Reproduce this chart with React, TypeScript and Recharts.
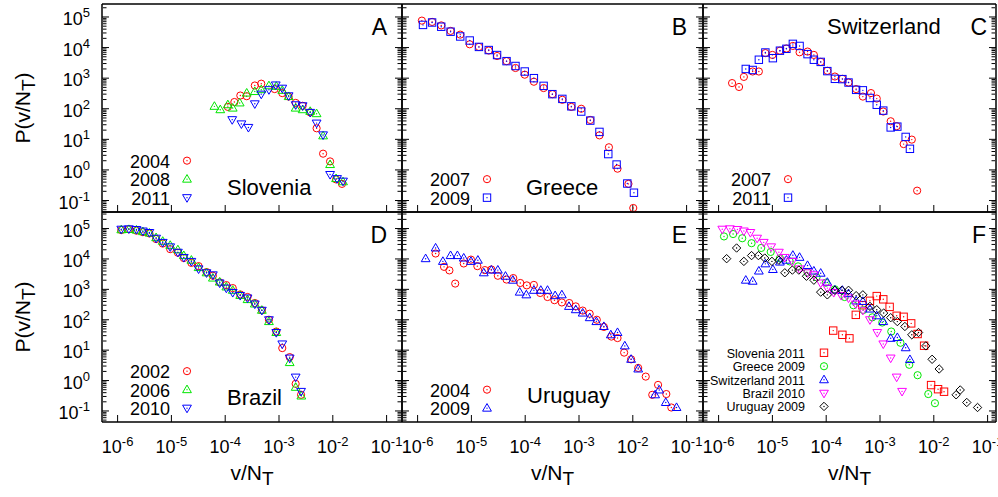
import React from 'react';
import { ScatterChart, Scatter, XAxis, YAxis, Legend } from 'recharts';

// A: Slovenia
const sloX2004 = [1.12e-4, 1.48e-4, 1.91e-4, 2.51e-4, 3.55e-4, 4.68e-4, 8.3e-4, 1.15e-3, 1.51e-3, 2.04e-3, 2.75e-3, 3.8e-3, 5.0e-3, 6.6e-3, 8.9e-3, 1.15e-2, 1.48e-2];
const sloY2004 = [115, 166, 270, 257, 575, 660, 440, 325, 250, 155, 125, 76, 23, 3.4, 1.9, 0.49, 0.35];
const sloX2008 = [6.3e-5, 8.1e-5, 1.12e-4, 1.38e-4, 1.86e-4, 2.51e-4, 3.55e-4, 4.68e-4, 6.5e-4, 8.9e-4, 1.15e-3, 1.51e-3, 2.04e-3, 2.75e-3, 3.8e-3, 5.0e-3, 6.6e-3, 8.9e-3, 1.15e-2, 1.55e-2];
const sloY2008 = [120, 93, 135, 105, 155, 325, 365, 420, 565, 540, 400, 250, 105, 93, 82, 69, 13, 1.5, 0.52, 0.41];
const sloX2011 = [1.35e-4, 2.0e-4, 2.7e-4, 3.55e-4, 4.68e-4, 6.5e-4, 8.7e-4, 1.15e-3, 1.51e-3, 2.04e-3, 2.75e-3, 3.8e-3, 5.0e-3, 6.6e-3, 8.9e-3, 1.2e-2, 1.55e-2];
const sloY2011 = [44, 32, 24.5, 145, 300, 420, 600, 470, 265, 135, 125, 76, 34, 14, 0.71, 0.52, 0.43];

// B: Greece
const greX2007 = [1.2e-6, 1.86e-6, 2.75e-6, 4.1e-6, 6.2e-6, 9.3e-6, 1.38e-5, 2.1e-5, 3.0e-5, 4.5e-5, 6.6e-5, 9.8e-5, 1.45e-4, 2.2e-4, 3.2e-4, 4.9e-4, 7.2e-4, 1.1e-3, 1.62e-3, 2.4e-3, 3.6e-3, 5.2e-3, 8.3e-3, 1.02e-2];
const greY2007 = [76000, 69000, 53000, 35000, 26500, 12800, 10500, 8000, 5300, 3600, 2150, 1300, 765, 475, 300, 196, 115, 100, 43, 13.5, 5.5, 1.1, 0.35, 0.057];
const greX2009 = [1.26e-6, 1.86e-6, 2.75e-6, 4.1e-6, 6.2e-6, 9.3e-6, 1.38e-5, 2.1e-5, 3.0e-5, 4.5e-5, 6.6e-5, 9.8e-5, 1.45e-4, 2.2e-4, 3.2e-4, 4.9e-4, 7.2e-4, 1.1e-3, 1.62e-3, 2.4e-3, 3.5e-3, 5.0e-3, 7.9e-3, 1.05e-2];
const greY2009 = [55000, 66000, 48000, 33000, 23000, 17000, 10500, 8300, 5700, 3600, 2500, 1650, 1000, 560, 300, 210, 120, 81, 41, 17.5, 3.3, 1.5, 0.36, 0.18];

// C: Switzerland
const swiX2007 = [1.78e-6, 2.4e-6, 2.95e-6, 4.3e-6, 5.6e-6, 7.4e-6, 1.0e-5, 1.38e-5, 1.82e-5, 2.4e-5, 3.2e-5, 4.5e-5, 5.9e-5, 7.9e-5, 1.05e-4, 1.45e-4, 2.0e-4, 2.6e-4, 3.6e-4, 4.8e-4, 6.8e-4, 8.7e-4, 1.15e-3, 1.58e-3, 2.04e-3, 2.75e-3, 3.9e-3, 4.9e-3];
const swiY2007 = [690, 515, 1100, 1650, 1650, 6600, 5750, 7900, 9300, 11300, 7000, 7400, 5750, 3400, 1740, 1130, 950, 720, 440, 250, 325, 215, 81, 39, 27, 7, 9.8, 0.21];
const swiX2011 = [3.2e-6, 4.3e-6, 5.6e-6, 7.4e-6, 1.02e-5, 1.38e-5, 1.82e-5, 2.4e-5, 3.2e-5, 4.5e-5, 5.9e-5, 7.9e-5, 1.05e-4, 1.45e-4, 2.0e-4, 2.6e-4, 3.6e-4, 4.8e-4, 6.5e-4, 8.7e-4, 1.15e-3, 1.58e-3, 2.1e-3, 3.0e-3, 3.6e-3];
const swiY2011 = [2000, 1850, 4000, 6900, 4500, 7900, 9100, 13200, 11300, 6100, 4000, 3400, 1700, 950, 930, 720, 415, 400, 225, 135, 87, 24.5, 26, 12, 4.9];

// D: Brazil
const braX = [1.17e-6, 1.62e-6, 2.24e-6, 2.95e-6, 3.9e-6, 5.2e-6, 6.9e-6, 9.5e-6, 1.32e-5, 1.7e-5, 2.35e-5, 3.2e-5, 4.5e-5, 5.9e-5, 7.9e-5, 1.05e-4, 1.38e-4, 1.9e-4, 2.6e-4, 3.55e-4, 4.8e-4, 6.5e-4, 8.9e-4, 1.15e-3, 1.58e-3, 2.04e-3, 2.57e-3];
const braY2002 = [89000, 95000, 85000, 76000, 69000, 45000, 32000, 21000, 16000, 10700, 7400, 5800, 3700, 2800, 1700, 1380, 1100, 680, 560, 355, 205, 100, 41, 11.7, 5.9, 0.78, 0.34];
const braX2006 = [1.17e-6, 1.62e-6, 2.24e-6, 2.95e-6, 3.9e-6, 5.2e-6, 6.9e-6, 9.5e-6, 1.32e-5, 1.7e-5, 2.35e-5, 3.2e-5, 4.5e-5, 5.9e-5, 7.9e-5, 1.05e-4, 1.38e-4, 1.9e-4, 2.6e-4, 3.55e-4, 4.8e-4, 6.5e-4, 8.9e-4, 1.58e-3, 2.04e-3, 2.6e-3];
const braY2006 = [91000, 93000, 89000, 79000, 71000, 50000, 38000, 28000, 20000, 12900, 9100, 5200, 3500, 2350, 1740, 1200, 930, 630, 460, 330, 205, 87, 38, 3.9, 0.6, 0.31];
const braY2010 = [95000, 98000, 93000, 83000, 74000, 48000, 35000, 25000, 16600, 11200, 8300, 4700, 3500, 3000, 1620, 1100, 790, 630, 520, 330, 205, 100, 38, 16, 5.5, 1.3, 0.44];

// E: Uruguay
const uruX2004 = [2.16e-6, 3.1e-6, 3.9e-6, 5.0e-6, 7.2e-6, 9.8e-6, 1.29e-5, 1.78e-5, 2.35e-5, 3.1e-5, 4.5e-5, 6.0e-5, 8.1e-5, 1.07e-4, 1.45e-4, 1.9e-4, 2.6e-4, 3.5e-4, 4.8e-4, 6.6e-4, 8.7e-4, 1.17e-3, 1.58e-3, 2.14e-3, 2.9e-3, 4.0e-3, 5.2e-3, 6.9e-3, 9.3e-3, 1.26e-2, 1.74e-2, 2.3e-2, 2.95e-2, 4.2e-2, 5.2e-2];
const uruY2004 = [15100, 5500, 4200, 1550, 7100, 9500, 5800, 4300, 4500, 2800, 2100, 2350, 1620, 1350, 1400, 760, 560, 440, 370, 355, 275, 200, 158, 100, 58, 28, 25, 8.3, 5.0, 2.6, 1.35, 0.34, 0.72, 0.36, 0.13];
const uruX2009 = [1.41e-6, 2.16e-6, 2.95e-6, 4.1e-6, 5.5e-6, 7.2e-6, 9.8e-6, 1.32e-5, 1.7e-5, 2.35e-5, 3.1e-5, 4.3e-5, 5.9e-5, 7.9e-5, 1.05e-4, 1.45e-4, 1.95e-4, 2.6e-4, 3.6e-4, 4.8e-4, 6.5e-4, 8.7e-4, 1.17e-3, 1.58e-3, 2.1e-3, 2.9e-3, 3.9e-3, 5.2e-3, 7.1e-3, 9.3e-3, 1.26e-2, 2.6e-2, 3.1e-2, 4.1e-2, 6.5e-2];
const uruY2009 = [10200, 22900, 8300, 12900, 12900, 10700, 8300, 9100, 3500, 4300, 4300, 2700, 2000, 810, 660, 930, 930, 930, 620, 660, 275, 214, 166, 117, 87, 60, 32, 38, 13.8, 5.0, 2.4, 0.34, 0.49, 0.19, 0.13];

const XMAJ = [1e-6, 1e-5, 1e-4, 1e-3, 1e-2, 1e-1];
const YMAJ = [1e-1, 1, 10, 100, 1e3, 1e4, 1e5];

const FONT = "'Liberation Sans', Arial, Helvetica, sans-serif";
const RED = '#ff0000';
const GREEN = '#00e600';
const BLUE = '#0000ff';
const MAGENTA = '#ff00ff';
const BLACK = '#000000';

// plot geometry (page pixels)
const COL_X = [102, 402, 703];
const COL_W = [300, 301, 293];
const ROW_Y = [4, 212];
const ROW_H = [208, 210];
const ROW_YLOG = [[-1.375, 5.424], [-1.363, 5.544]];
const X_LOG_MIN = -6.29;
const X_PX_PER_DEC = 53.8;

type Kind = 'circle' | 'up' | 'down' | 'square' | 'diamond';

interface Series {
  name: string;
  xs: number[];
  ys: number[];
  kind: Kind;
  color: string;
}

function Marker({ kind, cx, cy, color }: { kind: Kind; cx: number; cy: number; color: string }) {
  const common = { fill: 'none', stroke: color, strokeWidth: 1 };
  let outline;
  if (kind === 'circle') outline = <circle cx={cx} cy={cy} r={3.6} {...common} />;
  else if (kind === 'square') outline = <rect x={cx - 3.7} y={cy - 3.7} width={7.4} height={7.4} {...common} />;
  else if (kind === 'up') outline = <polygon points={`${cx},${cy - 4.6} ${cx + 4.4},${cy + 3} ${cx - 4.4},${cy + 3}`} {...common} />;
  else if (kind === 'down') outline = <polygon points={`${cx},${cy + 4.6} ${cx + 4.4},${cy - 3} ${cx - 4.4},${cy - 3}`} {...common} />;
  else outline = <polygon points={`${cx},${cy - 4.2} ${cx + 4.2},${cy} ${cx},${cy + 4.2} ${cx - 4.2},${cy}`} {...common} />;
  return (
    <g>
      {outline}
      <circle cx={cx} cy={cy} r={0.7} fill={color} />
    </g>
  );
}

function minors(lo: number, hi: number) {
  const out: number[] = [];
  for (let k = Math.floor(lo); k <= Math.ceil(hi); k++) {
    for (let m = 2; m <= 9; m++) {
      const l = Math.log10(m) + k;
      if (l > lo + 0.01 && l < hi - 0.01) out.push(m * Math.pow(10, k));
    }
  }
  return out;
}

const NoLabel = () => <g />;

// tick label "10^n" under the bottom frame; y0 is the plot bottom in chart pixels
function XTickLabel({ x, value, y0 }: { x: number; value: number; y0: number }) {
  const e = Math.round(Math.log10(value));
  return (
    <text x={x} y={y0 + 31} textAnchor="middle" fontFamily={FONT} fontSize={18} fill="#000">
      10<tspan dy={-7} fontSize={13}>{e}</tspan>
    </text>
  );
}

// tick label left of the frame; x0 is the plot left in chart pixels
function YTickLabel({ y, value, x0 }: { y: number; value: number; x0: number }) {
  const e = Math.round(Math.log10(value));
  return (
    <text x={x0 - 12} y={y + 8} textAnchor="end" fontFamily={FONT} fontSize={18} fill="#000">
      10<tspan dy={-8} fontSize={13}>{e}</tspan>
    </text>
  );
}

interface PanelSpec {
  col: number;
  row: number;
  series: Series[];
  xLabels: boolean;
  yLabels: boolean;
  rows: number[]; // legend baselines, px above plot bottom
  textX: number;
  markX: number;
  legendFont: number;
  place?: string;
  placeX?: number;
  placeY?: number; // negative = from bottom
  letter: string;
  letterX: number;
}

const panels: PanelSpec[] = [
  {
    col: 0, row: 0, xLabels: false, yLabels: true,
    series: [
      { name: '2004', xs: sloX2004, ys: sloY2004, kind: 'circle', color: RED },
      { name: '2008', xs: sloX2008, ys: sloY2008, kind: 'up', color: GREEN },
      { name: '2011', xs: sloX2011, ys: sloY2011, kind: 'down', color: BLUE },
    ],
    rows: [44.5, 26, 7.5], textX: 68, markX: 85, legendFont: 18,
    place: 'Slovenia', placeX: 125, placeY: -17, letter: 'A', letterX: 285,
  },
  {
    col: 1, row: 0, xLabels: false, yLabels: false,
    series: [
      { name: '2007', xs: greX2007, ys: greY2007, kind: 'circle', color: RED },
      { name: '2009', xs: greX2009, ys: greY2009, kind: 'square', color: BLUE },
    ],
    rows: [26, 7.5], textX: 68, markX: 85, legendFont: 18,
    place: 'Greece', placeX: 124, placeY: -17, letter: 'B', letterX: 285,
  },
  {
    col: 2, row: 0, xLabels: false, yLabels: false,
    series: [
      { name: '2007', xs: swiX2007, ys: swiY2007, kind: 'circle', color: RED },
      { name: '2011', xs: swiX2011, ys: swiY2011, kind: 'square', color: BLUE },
    ],
    rows: [26, 7.5], textX: 68, markX: 85, legendFont: 18,
    place: 'Switzerland', placeX: 124, placeY: 30, letter: 'C', letterX: 284,
  },
  {
    col: 0, row: 1, xLabels: true, yLabels: true,
    series: [
      { name: '2002', xs: braX, ys: braY2002, kind: 'circle', color: RED },
      { name: '2006', xs: braX2006, ys: braY2006, kind: 'up', color: GREEN },
      { name: '2010', xs: braX, ys: braY2010, kind: 'down', color: BLUE },
    ],
    rows: [44, 25.5, 7], textX: 68, markX: 85, legendFont: 18,
    place: 'Brazil', placeX: 125, placeY: -17, letter: 'D', letterX: 285,
  },
  {
    col: 1, row: 1, xLabels: true, yLabels: false,
    series: [
      { name: '2004', xs: uruX2004, ys: uruY2004, kind: 'circle', color: RED },
      { name: '2009', xs: uruX2009, ys: uruY2009, kind: 'up', color: BLUE },
    ],
    rows: [25.5, 7], textX: 68, markX: 85, legendFont: 18,
    place: 'Uruguay', placeX: 125, placeY: -19, letter: 'E', letterX: 285,
  },
  {
    col: 2, row: 1, xLabels: true, yLabels: false,
    series: [
      { name: 'Slovenia 2011', xs: sloX2011, ys: sloY2011, kind: 'square', color: RED },
      { name: 'Greece 2009', xs: greX2009, ys: greY2009, kind: 'circle', color: GREEN },
      { name: 'Switzerland 2011', xs: swiX2011, ys: swiY2011, kind: 'up', color: BLUE },
      { name: 'Brazil 2010', xs: braX, ys: braY2010, kind: 'down', color: MAGENTA },
      { name: 'Uruguay 2009', xs: uruX2009, ys: uruY2009, kind: 'diamond', color: BLACK },
    ],
    rows: [64.5, 51, 37.5, 24, 10.8], textX: 102, markX: 121, legendFont: 12.5,
    letter: 'F', letterX: 283,
  },
];

function Overlay({ payload, p, ml, mt, pw, ph, W, H }: any) {
  const bottom = mt + ph;
  const names = new Set((payload || []).map((it: any) => it.value));
  return (
    <svg width={W} height={H} style={{ display: 'block', overflow: 'visible' }} fontFamily={FONT} fill="#000">
      {p.series.map((s: Series, i: number) => {
        if (!names.has(s.name)) return null;
        const by = bottom - p.rows[i];
        return (
          <g key={s.name}>
            <text x={ml + p.textX} y={by} textAnchor="end" fontSize={p.legendFont}>{s.name}</text>
            <Marker kind={s.kind} cx={ml + p.markX} cy={by - p.legendFont * 0.38} color={s.color} />
          </g>
        );
      })}
      {p.place && (
        <text x={ml + p.placeX} y={p.placeY < 0 ? bottom + p.placeY : mt + p.placeY} fontSize={22}>{p.place}</text>
      )}
      <text x={ml + p.letterX} y={mt + 31} textAnchor="end" fontSize={23}>{p.letter}</text>
      {p.xLabels && (
        <text x={ml + pw / 2} y={bottom + 58} textAnchor="middle" fontSize={21}>
          v/N<tspan dy={5} fontSize={19}>T</tspan>
        </text>
      )}
      {p.yLabels && (
        <text transform={`translate(30, ${mt + ph / 2}) rotate(-90)`} textAnchor="middle" fontSize={21}>
          P(v/N<tspan dy={5} fontSize={19}>T</tspan><tspan dy={-5}>)</tspan>
        </text>
      )}
    </svg>
  );
}

function Panel({ p }: { p: PanelSpec }) {
  const pw = COL_W[p.col];
  const ph = ROW_H[p.row];
  const ml = p.yLabels ? 102 : 2;
  const mb = p.xLabels ? 75 : 2;
  const mt = 2;
  const mr = 2;
  const W = pw + ml + mr;
  const H = ph + mt + mb;
  const xLo = X_LOG_MIN;
  const xHi = X_LOG_MIN + pw / X_PX_PER_DEC;
  const [yLo, yHi] = ROW_YLOG[p.row];
  const xd = [Math.pow(10, xLo), Math.pow(10, xHi)];
  const yd = [Math.pow(10, yLo), Math.pow(10, yHi)];
  const xMin = minors(xLo, xHi);
  const yMin = minors(yLo, yHi);
  const frame = { stroke: '#000', strokeWidth: 1.5 };
  const tl = { stroke: '#000', strokeWidth: 1 };
  const ax = { type: 'number' as const, scale: 'log' as const, allowDataOverflow: true, interval: 0 as const };

  const xTick = p.xLabels
    ? (t: any) => <XTickLabel x={t.x} value={t.payload.value} y0={mt + ph} />
    : NoLabel;
  const yTick = p.yLabels
    ? (t: any) => <YTickLabel y={t.y} value={t.payload.value} x0={ml} />
    : NoLabel;

  return (
    <div style={{ position: 'absolute', left: COL_X[p.col] - ml, top: ROW_Y[p.row] - mt, width: W, height: H }}>
      <ScatterChart width={W} height={H} margin={{ top: mt, right: mr, bottom: mb, left: ml }}>
        <XAxis xAxisId="x" dataKey="x" {...ax} domain={xd} ticks={XMAJ} orientation="bottom" mirror height={1}
          tickSize={7} tick={xTick} axisLine={frame} tickLine={tl} />
        <XAxis xAxisId="xm" {...ax} domain={xd} ticks={xMin} orientation="bottom" mirror height={1}
          tickSize={3.5} tick={NoLabel} axisLine={false} tickLine={tl} />
        <XAxis xAxisId="xt" {...ax} domain={xd} ticks={XMAJ} orientation="top" mirror height={1}
          tickSize={7} tick={NoLabel} axisLine={frame} tickLine={tl} />
        <XAxis xAxisId="xtm" {...ax} domain={xd} ticks={xMin} orientation="top" mirror height={1}
          tickSize={3.5} tick={NoLabel} axisLine={false} tickLine={tl} />
        <YAxis yAxisId="y" dataKey="y" {...ax} domain={yd} ticks={YMAJ} orientation="left" mirror width={1}
          tickSize={7} tick={yTick} axisLine={frame} tickLine={tl} />
        <YAxis yAxisId="ym" {...ax} domain={yd} ticks={yMin} orientation="left" mirror width={1}
          tickSize={3.5} tick={NoLabel} axisLine={false} tickLine={tl} />
        <YAxis yAxisId="yr" {...ax} domain={yd} ticks={YMAJ} orientation="right" mirror width={1}
          tickSize={7} tick={NoLabel} axisLine={frame} tickLine={tl} />
        <YAxis yAxisId="yrm" {...ax} domain={yd} ticks={yMin} orientation="right" mirror width={1}
          tickSize={3.5} tick={NoLabel} axisLine={false} tickLine={tl} />
        {p.series.map((s) => (
          <Scatter
            key={s.name}
            name={s.name}
            xAxisId="x"
            yAxisId="y"
            data={s.xs.map((x, i) => ({ x, y: s.ys[i] }))}
            fill={s.color}
            isAnimationActive={false}
            shape={(props: any) => <Marker kind={s.kind} cx={props.cx} cy={props.cy} color={s.color} />}
          />
        ))}
        <Legend
          layout="horizontal"
          align="center"
          verticalAlign="middle"
          width={W}
          height={H}
          wrapperStyle={{ left: 0, top: 0, width: W, height: H, pointerEvents: 'none' }}
          content={(props: any) => (
            <Overlay payload={props.payload} p={p} ml={ml} mt={mt} pw={pw} ph={ph} W={W} H={H} />
          )}
        />
      </ScatterChart>
    </div>
  );
}

export default function App() {
  return (
    <div style={{ position: 'absolute', left: 0, top: 0, width: 998, height: 497, background: '#fff', overflow: 'hidden' }}>
      <style>{`.recharts-surface { overflow: visible; }`}</style>
      {panels.map((p) => (
        <Panel key={p.letter} p={p} />
      ))}
    </div>
  );
}
